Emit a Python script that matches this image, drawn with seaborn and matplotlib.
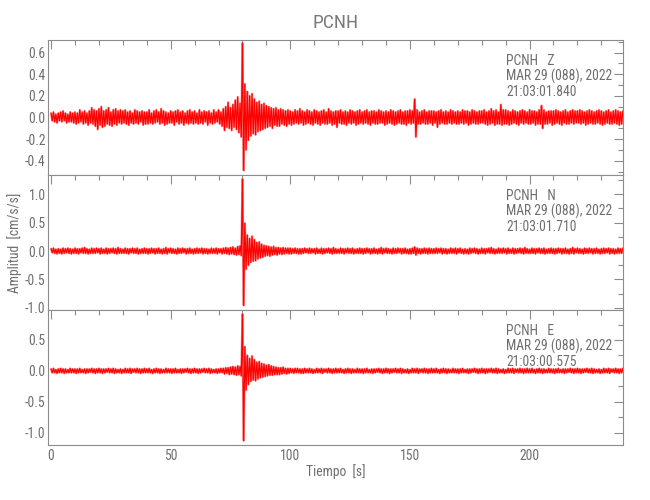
import numpy as np
import pandas as pd
import matplotlib
matplotlib.use("Agg")
import matplotlib.pyplot as plt
from matplotlib import font_manager as fm
from matplotlib.ticker import MultipleLocator, FormatStrFormatter
import seaborn as sns

# ---------------- data ----------------
# Alternating peak values of each trace, one every 0.5 s, in units of 0.01 cm/s/s
DT = 0.5
UNIT = 0.01
station = "PCNH"
components = ["Z", "N", "E"]
dates = ["MAR 29 (088), 2022", "MAR 29 (088), 2022", "MAR 29 (088), 2022"]
start_times = ["21:03:01.840", "21:03:01.710", "21:03:00.575"]

z_vals = [
    4, -3, 5, -4, 3, -5, 4, -3, 5, -4, 6, -3, 4, -5, 3, -4, 5, -4, 4, -5,
    5, -6, 4, -5, 7, -4, 5, -6, 6, -5, 4, -7, 6, -5, 9, -6, 7, -8, 6, -11,
    8, -7, 10, -9, 6, -8, 7, -6, 9, -7, 5, -8, 7, -6, 8, -7, 6, -5, 7, -6,
    6, -5, 7, -6, 5, -7, 6, -5, 4, -6, 7, -5, 6, -6, 5, -4, 6, -7, 5, -6,
    5, -6, 7, -5, 4, -6, 6, -5, 7, -4, 5, -6, 8, -5, 6, -7, 5, -6, 4, -5,
    6, -5, 5, -7, 6, -4, 7, -6, 5, -5, 6, -7, 4, -5, 6, -6, 7, -5, 5, -6,
    6, -5, 4, -6, 7, -5, 5, -6, 6, -4, 5, -7, 6, -5, 4, -6, 7, -5, 5, -4,
    7, -6, 5, -8, 8, -12, 10, -9, 14, -10, 9, -12, 12, -9, 16, -11, 19, -14, 13, -18,
    69, -49, 31, -30, 24, -21, 20, -17, 22, -15, 17, -16, 14, -13, 15, -12, 12, -11, 13, -10,
    11, -9, 10, -8, 9, -10, 8, -7, 9, -8, 7, -8, 8, -6, 7, -7, 6, -8, 7, -6,
    6, -7, 5, -6, 7, -5, 6, -6, 8, -5, 6, -7, 5, -6, 7, -5, 6, -6, 5, -7,
    7, -5, 6, -6, 5, -7, 6, -5, 7, -6, 5, -6, 8, -5, 6, -7, 5, -6, 6, -9,
    6, -5, 7, -6, 5, -6, 6, -7, 5, -5, 7, -6, 6, -5, 5, -7, 6, -6, 7, -5,
    5, -6, 6, -5, 7, -6, 5, -7, 6, -5, 6, -6, 5, -6, 7, -5, 6, -5, 5, -7,
    6, -6, 5, -5, 7, -6, 6, -7, 5, -6, 6, -5, 7, -6, 5, -6, 6, -7, 6, -5,
    7, -6, 6, -5, 17, -18, 7, -6, 5, -6, 6, -5, 7, -6, 5, -6, 6, -5, 6, -7,
    6, -5, 5, -9, 6, -6, 7, -5, 5, -6, 6, -6, 5, -5, 7, -6, 6, -5, 5, -6,
    6, -6, 5, -5, 7, -6, 6, -5, 6, -7, 5, -6, 7, -5, 6, -6, 5, -6, 6, -5,
    6, -5, 7, -6, 5, -7, 6, -6, 8, -5, 6, -7, 7, -6, 5, -6, 12, -7, 7, -6,
    7, -6, 6, -7, 5, -6, 7, -5, 6, -6, 5, -7, 6, -5, 7, -6, 6, -5, 5, -6,
    7, -6, 6, -5, 6, -7, 5, -6, 7, -6, 11, -10, 7, -6, 5, -6, 6, -5, 6, -7,
    6, -6, 7, -5, 6, -6, 5, -7, 6, -5, 7, -6, 5, -6, 6, -5, 7, -6, 6, -5,
    6, -5, 7, -6, 6, -5, 5, -7, 6, -6, 7, -5, 6, -6, 5, -6, 6, -5, 7, -6,
    6, -7, 5, -6, 6, -5, 7, -6, 5, -6, 6, -5, 7, -6, 6, -7, 5, -6, 6, -5,
]

n_vals = [
    4, -3, 5, -4, 3, -5, 4, -4, 3, -5, 5, -4, 4, -3, 5, -4, 4, -5, 3, -4,
    5, -4, 4, -5, 4, -3, 5, -4, 6, -4, 4, -5, 3, -4, 5, -4, 4, -4, 5, -3,
    4, -5, 5, -4, 3, -4, 5, -5, 4, -4, 4, -3, 5, -4, 4, -5, 6, -4, 4, -4,
    3, -4, 5, -4, 4, -5, 4, -3, 5, -4, 4, -4, 5, -5, 3, -4, 4, -4, 5, -4,
    4, -5, 4, -4, 5, -3, 4, -5, 4, -4, 5, -4, 3, -5, 4, -4, 6, -5, 4, -3,
    5, -4, 4, -4, 3, -5, 5, -4, 4, -4, 5, -3, 4, -5, 4, -4, 5, -4, 3, -5,
    4, -4, 5, -4, 4, -3, 5, -5, 4, -4, 4, -5, 3, -4, 5, -4, 4, -4, 5, -5,
    4, -3, 4, -5, 5, -4, 6, -5, 5, -6, 6, -5, 7, -6, 5, -7, 8, -6, 9, -8,
    127, -96, 49, -32, 28, -25, 22, -20, 26, -18, 20, -17, 15, -14, 16, -12, 12, -11, 10, -9,
    9, -8, 8, -9, 7, -7, 8, -6, 6, -7, 6, -5, 5, -6, 6, -5, 5, -4, 5, -5,
    5, -5, 4, -4, 5, -4, 4, -5, 4, -5, 4, -4, 5, -3, 4, -4, 5, -4, 4, -3,
    4, -5, 5, -4, 3, -4, 5, -5, 4, -4, 4, -3, 5, -4, 4, -5, 6, -4, 4, -4,
    3, -4, 5, -4, 4, -5, 4, -3, 5, -4, 4, -4, 5, -5, 3, -4, 4, -4, 5, -4,
    4, -5, 4, -4, 5, -3, 4, -5, 4, -4, 5, -4, 3, -5, 4, -4, 6, -5, 4, -3,
    5, -4, 4, -4, 3, -5, 5, -4, 4, -4, 5, -3, 4, -5, 4, -4, 5, -4, 3, -5,
    4, -5, 5, -4, 7, -7, 5, -4, 4, -5, 4, -4, 5, -4, 4, -5, 5, -4, 4, -4,
    4, -4, 5, -4, 4, -3, 5, -5, 4, -4, 4, -5, 3, -4, 5, -4, 4, -4, 5, -5,
    4, -3, 5, -4, 3, -5, 4, -4, 3, -5, 5, -4, 4, -3, 5, -4, 4, -5, 3, -4,
    5, -4, 4, -5, 4, -3, 5, -4, 6, -4, 4, -5, 3, -4, 5, -4, 4, -4, 5, -3,
    4, -5, 5, -4, 3, -4, 5, -5, 4, -4, 4, -3, 5, -4, 4, -5, 6, -4, 4, -4,
    3, -4, 5, -4, 4, -5, 4, -3, 5, -4, 4, -4, 5, -5, 3, -4, 4, -4, 5, -4,
    4, -5, 4, -4, 5, -3, 4, -5, 4, -4, 5, -4, 3, -5, 4, -4, 6, -5, 4, -3,
    5, -4, 4, -4, 3, -5, 5, -4, 4, -4, 5, -3, 4, -5, 4, -4, 5, -4, 3, -5,
    4, -4, 5, -4, 4, -3, 5, -5, 4, -4, 4, -5, 3, -4, 5, -4, 4, -4, 5, -5,
]

e_vals = [
    3, -3, 4, -3, 2, -4, 3, -3, 4, -3, 3, -4, 3, -3, 2, -3, 4, -3, 3, -3,
    3, -4, 3, -3, 4, -3, 2, -3, 3, -4, 3, -3, 3, -2, 4, -3, 3, -4, 3, -3,
    4, -3, 3, -4, 3, -3, 3, -2, 4, -3, 3, -3, 4, -4, 3, -3, 2, -3, 3, -4,
    2, -3, 4, -3, 3, -3, 4, -4, 3, -2, 3, -3, 4, -3, 3, -4, 3, -3, 4, -3,
    3, -3, 4, -3, 2, -4, 3, -3, 4, -3, 3, -4, 3, -3, 2, -3, 4, -3, 3, -3,
    3, -4, 3, -3, 4, -3, 2, -3, 3, -4, 3, -3, 3, -2, 4, -3, 3, -4, 3, -3,
    4, -3, 3, -4, 3, -3, 3, -2, 4, -3, 3, -3, 4, -4, 3, -3, 2, -3, 3, -4,
    3, -3, 4, -3, 4, -5, 5, -4, 5, -6, 6, -5, 7, -6, 6, -7, 8, -6, 7, -8,
    92, -113, 39, -31, 25, -22, 20, -17, 24, -15, 18, -16, 14, -13, 15, -11, 12, -10, 11, -9,
    9, -8, 10, -7, 8, -7, 7, -6, 6, -6, 5, -6, 5, -5, 6, -4, 4, -5, 4, -4,
    4, -3, 3, -4, 4, -3, 4, -3, 3, -4, 3, -4, 4, -3, 3, -3, 4, -3, 3, -4,
    2, -3, 4, -3, 3, -3, 4, -4, 3, -2, 3, -3, 4, -3, 3, -4, 3, -3, 4, -3,
    3, -3, 4, -3, 2, -4, 3, -3, 4, -3, 3, -4, 3, -3, 2, -3, 4, -3, 3, -3,
    3, -4, 3, -3, 4, -3, 2, -3, 3, -4, 3, -3, 3, -2, 4, -3, 3, -4, 3, -3,
    4, -3, 3, -4, 3, -3, 3, -2, 4, -3, 3, -3, 4, -4, 3, -3, 2, -3, 3, -4,
    2, -3, 4, -3, 3, -3, 4, -4, 3, -2, 3, -3, 4, -3, 3, -4, 3, -3, 4, -3,
    3, -3, 4, -3, 2, -4, 3, -3, 4, -3, 3, -4, 3, -3, 2, -3, 4, -3, 3, -3,
    3, -4, 3, -3, 4, -3, 2, -3, 3, -4, 3, -3, 3, -2, 4, -3, 3, -4, 3, -3,
    4, -3, 3, -4, 3, -3, 3, -2, 4, -3, 3, -3, 4, -4, 3, -3, 2, -3, 3, -4,
    2, -3, 4, -3, 3, -3, 4, -4, 3, -2, 3, -3, 4, -3, 3, -4, 3, -3, 4, -3,
    3, -3, 4, -3, 2, -4, 3, -3, 4, -3, 3, -4, 3, -3, 2, -3, 4, -3, 3, -3,
    3, -4, 3, -3, 4, -3, 2, -3, 3, -4, 3, -3, 3, -2, 4, -3, 3, -4, 3, -3,
    4, -3, 3, -4, 3, -3, 3, -2, 4, -3, 3, -3, 4, -4, 3, -3, 2, -3, 3, -4,
    2, -3, 4, -3, 3, -3, 4, -4, 3, -2, 3, -3, 4, -3, 3, -4, 3, -3, 4, -3,
]

y_limits = [(-0.532, 0.717), (-1.04, 1.34), (-1.20, 0.985)]
y_major = [0.2, 0.5, 0.5]
y_minor = [0.1, 0.25, 0.25]
x_limits = (-1.4, 239.2)


# ---------------- fonts ----------------
def pick_font():
    for fam in ["Liberation Sans Narrow", "Roboto Condensed", "Open Sans Condensed"]:
        try:
            fm.findfont(fm.FontProperties(family=fam), fallback_to_default=False)
            return fam, "normal", 1.0
        except Exception:
            pass
    path = fm.findfont(fm.FontProperties(family="DejaVu Sans", stretch="condensed"))
    if "Condensed" in path:
        return "DejaVu Sans", "condensed", 0.95
    return "Roboto", "normal", 0.88


sns.set_style("white")
FAM, STRETCH, SC = pick_font()
plt.rcParams["font.family"] = [FAM, "DejaVu Sans"]
plt.rcParams["font.stretch"] = STRETCH
TXT = "#6e6e6e"
AX = "#8c8c8c"
FS = 9.8 * SC

fig, axes = plt.subplots(3, 1, figsize=(6.5, 5.0), dpi=100, sharex=True)
fig.subplots_adjust(left=0.0734, right=0.959, top=0.92, bottom=0.11, hspace=0)

traces = [z_vals, n_vals, e_vals]
for i, (ax, vals) in enumerate(zip(axes, traces)):
    df = pd.DataFrame({"t": np.arange(len(vals)) * DT,
                       "a": np.asarray(vals, dtype=float) * UNIT})
    sns.lineplot(data=df, x="t", y="a", ax=ax, color="#ff8c8c", linewidth=1.6,
                 estimator=None, sort=False)
    sns.lineplot(data=df, x="t", y="a", ax=ax, color="#ff0000", linewidth=0.85,
                 estimator=None, sort=False)
    ax.set_xlim(*x_limits)
    ax.set_ylim(*y_limits[i])
    ax.set_xlabel("")
    ax.set_ylabel("")
    ax.yaxis.set_major_locator(MultipleLocator(y_major[i]))
    ax.yaxis.set_minor_locator(MultipleLocator(y_minor[i]))
    ax.yaxis.set_major_formatter(FormatStrFormatter("%.1f"))
    ax.xaxis.set_major_locator(MultipleLocator(50))
    ax.xaxis.set_minor_locator(MultipleLocator(10))
    ax.tick_params(which="both", direction="in", top=True, right=True,
                   color=AX, labelcolor=TXT, labelsize=FS, width=0.8)
    ax.tick_params(which="major", length=6.5)
    ax.tick_params(which="minor", length=3.6)
    ax.tick_params(axis="y", pad=1.5)
    ax.tick_params(axis="x", pad=3)
    for s in ax.spines.values():
        s.set_color(AX)
        s.set_linewidth(0.8)
        s.set_visible(True)
    ax.text(0.796, 0.815, f"{station}   {components[i]}", transform=ax.transAxes,
            color=TXT, fontsize=FS, va="baseline", ha="left")
    ax.text(0.796, 0.700, dates[i], transform=ax.transAxes,
            color=TXT, fontsize=FS, va="baseline", ha="left")
    ax.text(0.796, 0.585, start_times[i], transform=ax.transAxes,
            color=TXT, fontsize=FS, va="baseline", ha="left")

for ax in axes[:-1]:
    ax.tick_params(axis="x", labelbottom=False)

fig.text(0.516, 0.955, station, ha="center", va="center", color="#7a7a7a",
         fontsize=14 * SC)
fig.text(0.023, 0.515, "Amplitud  [cm/s/s]", rotation=90, ha="center",
         va="center", color=TXT, fontsize=FS)
fig.text(0.516, 0.057, "Tiempo  [s]", ha="center", va="center", color=TXT,
         fontsize=FS)

fig.savefig("out.png", dpi=100, facecolor="white")
